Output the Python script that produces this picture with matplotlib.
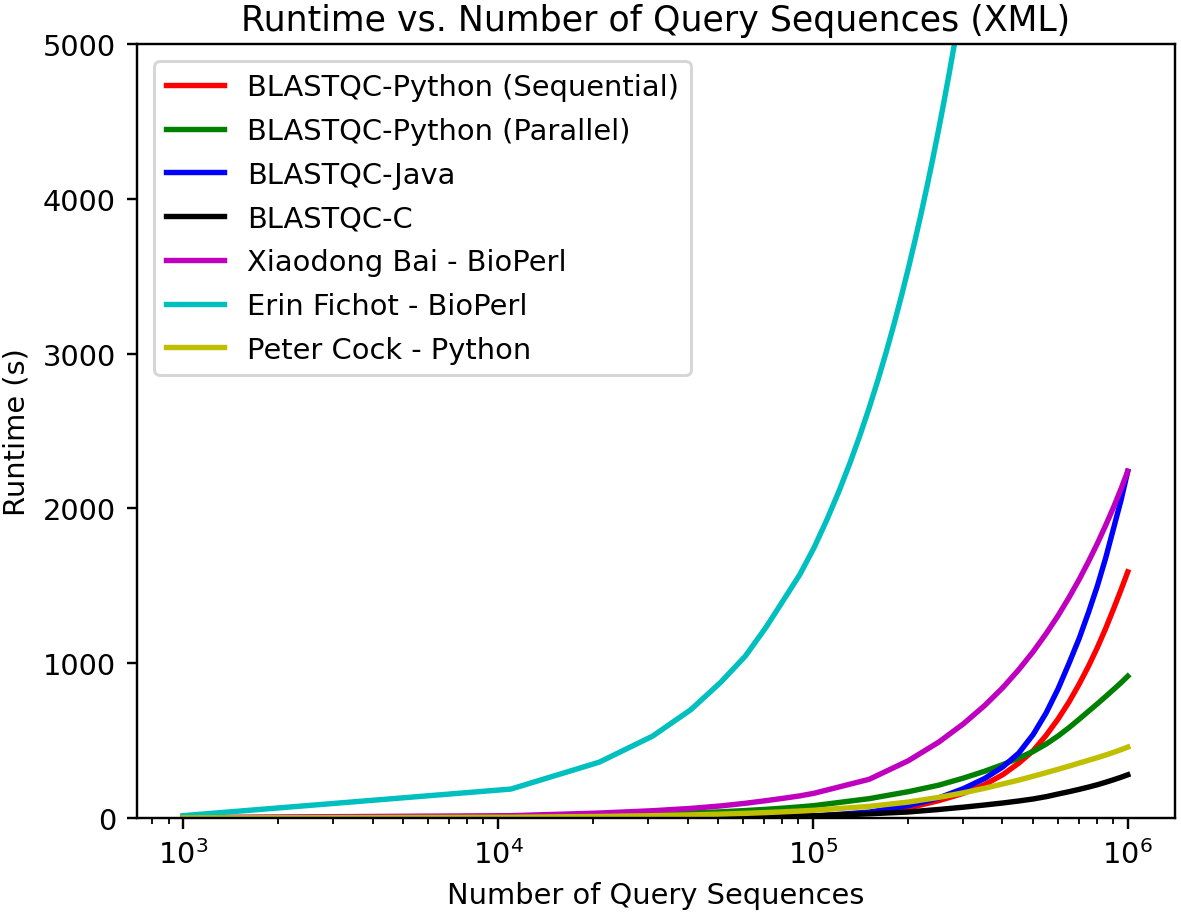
import matplotlib
matplotlib.use("Agg")
import matplotlib.pyplot as plt

# Number of query sequences (shared grid)
n_seq = [1000, 11000, 21000, 31000, 41000, 51000, 61000, 71000, 81000, 91000, 101000,
         151000, 201000, 251000, 301000, 351000, 401000, 451000, 501000, 551000,
         601000, 651000, 701000, 751000, 801000, 851000, 901000, 951000, 1000000]

py_seq = [0.1, 0.5, 1, 1.5, 2.5, 3.5, 4.5, 5.5, 7, 8.5, 10,
          32, 65, 112, 160, 215, 280, 355, 435, 535,
          640, 750, 865, 982, 1102, 1225, 1350, 1472, 1590]
py_par = [1, 8, 16, 24, 32, 40, 48, 56, 64, 72, 80,
          125, 170, 212, 258, 302, 345, 388, 430, 478,
          530, 584, 638, 690, 738, 785, 830, 873, 916]
java = [0.1, 0.5, 1, 1.5, 2.5, 3.5, 4.5, 6, 7.5, 9.5, 12,
        38, 80, 130, 190, 255, 330, 420, 540, 680,
        835, 1000, 1160, 1330, 1500, 1680, 1870, 2050, 2240]
blast_c = [0.2, 1.6, 3, 4.5, 6, 7.5, 9, 10.5, 12, 13.5, 15,
           27, 39, 55, 70, 84, 97, 110, 123, 138,
           155, 170, 185, 200, 215, 231, 247, 263, 279]
bai = [3, 15, 32, 47, 62, 78, 95, 112, 128, 143, 160,
       250, 370, 490, 609, 726, 842, 959, 1075, 1192,
       1308, 1425, 1541, 1658, 1774, 1891, 2007, 2124, 2240]
cock = [0.5, 5, 10, 15, 20, 25, 30, 35, 40, 45, 50,
        75, 103, 133, 163, 192, 220, 245, 270, 293,
        315, 335, 355, 373, 390, 407, 424, 441, 458]

# Erin Fichot series (goes off the chart)
n_fichot = [1000, 11000, 21000, 31000, 41000, 51000, 61000, 71000, 81000, 91000, 101000,
            111000, 121000, 131000, 141000, 151000, 161000, 171000, 181000, 191000, 201000,
            211000, 221000, 231000, 241000, 251000, 261000, 271000, 281000, 291000, 301000]
fichot = [15, 187, 361, 529, 700, 877, 1045, 1232, 1413, 1574, 1748,
          1930, 2110, 2290, 2470, 2650, 2830, 3010, 3190, 3370, 3550,
          3730, 3910, 4090, 4270, 4450, 4630, 4810, 4990, 5170, 5350]

labels = ["BLASTQC-Python (Sequential)", "BLASTQC-Python (Parallel)", "BLASTQC-Java",
          "BLASTQC-C", "Xiaodong Bai - BioPerl", "Erin Fichot - BioPerl", "Peter Cock - Python"]

plt.rcParams["font.size"] = 9.65

dpi = 216
lw = 1.8
fig = plt.figure(figsize=(1181 / dpi, 915 / dpi), dpi=dpi)
ax = fig.add_axes([137 / 1181, 1 - 819 / 915, (1175 - 137) / 1181, (819 - 45) / 915])

ax.plot(n_seq, py_seq, color="r", lw=lw, label=labels[0])
ax.plot(n_seq, py_par, color="g", lw=lw, label=labels[1])
ax.plot(n_seq, java, color="b", lw=lw, label=labels[2])
ax.plot(n_seq, blast_c, color="k", lw=lw, label=labels[3])
ax.plot(n_seq, bai, color="m", lw=lw, label=labels[4])
ax.plot(n_fichot, fichot, color="c", lw=lw, label=labels[5])
ax.plot(n_seq, cock, color="y", lw=lw, label=labels[6])

ax.set_xscale("log")
ax.set_xlim(10 ** 2.854, 10 ** 6.15)
ax.set_ylim(0, 5000)
ax.set_yticks([0, 1000, 2000, 3000, 4000, 5000])
ax.set_title("Runtime vs. Number of Query Sequences (XML)", pad=4.5)
ax.set_xlabel("Number of Query Sequences")
ax.set_ylabel("Runtime (s)")
ax.legend(loc="upper left", labelspacing=0.545, borderaxespad=0.6)

fig.savefig("out.png", dpi=dpi)
